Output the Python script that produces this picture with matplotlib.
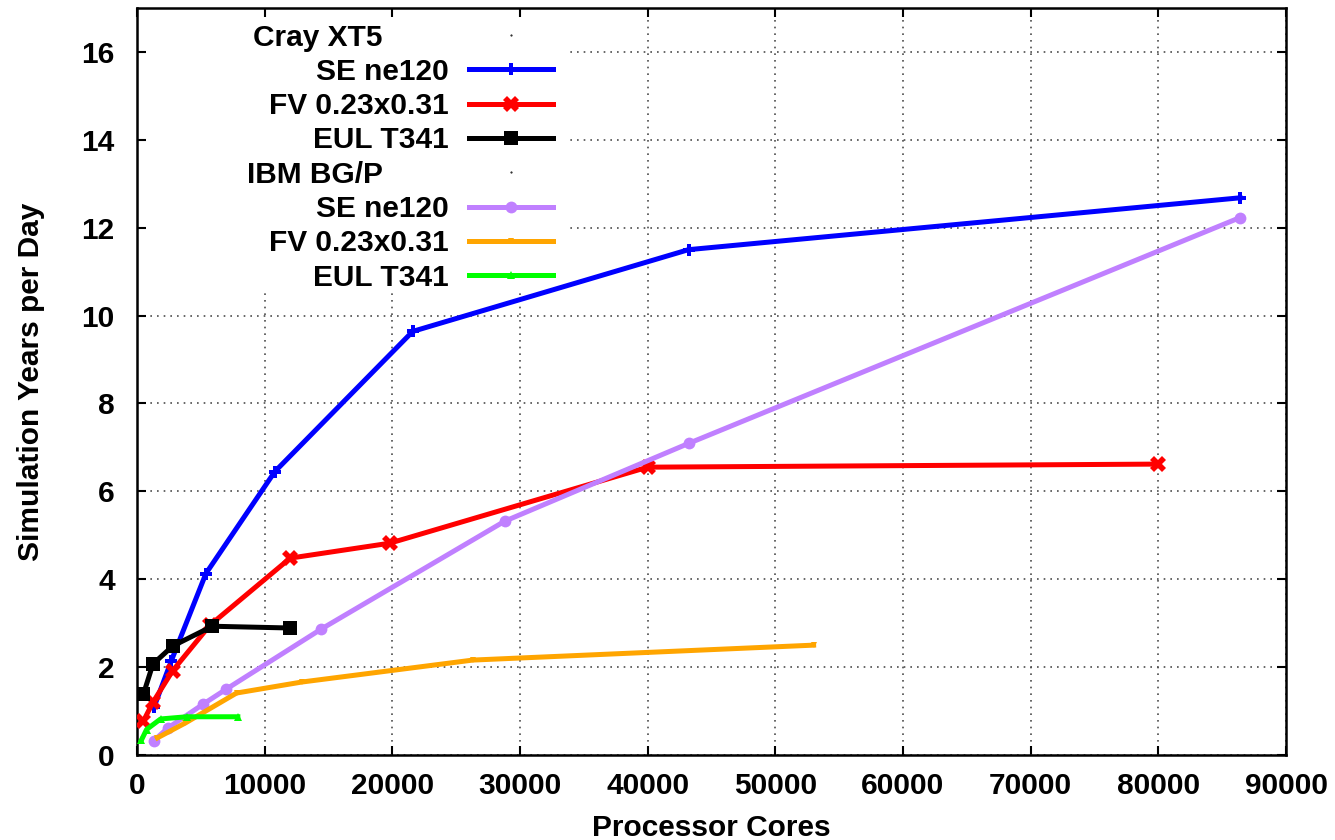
## Throughput of CAM dynamical cores on Cray XT5 and IBM BG/P

import matplotlib as mpl
mpl.use('Agg')
import matplotlib.pyplot as plt
from matplotlib.lines import Line2D
from matplotlib.patches import Rectangle

# Cray XT5
cray_se_cores = [1350, 2700, 5400, 10800, 21600, 43200, 86400]
cray_se_sypd = [1.1, 2.15, 4.13, 6.45, 9.64, 11.5, 12.68]
cray_fv_cores = [500, 1250, 2800, 5700, 12000, 19800, 40000, 80000]
cray_fv_sypd = [0.77, 1.2, 1.92, 2.95, 4.48, 4.82, 6.55, 6.62]
cray_eul_cores = [500, 1250, 2800, 5900, 12000]
cray_eul_sypd = [1.38, 2.07, 2.48, 2.93, 2.89]

# IBM BG/P
bgp_se_cores = [1300, 2400, 5200, 7000, 14400, 28800, 43200, 86400]
bgp_se_sypd = [0.32, 0.61, 1.16, 1.5, 2.86, 5.32, 7.09, 12.23]
bgp_fv_cores = [1600, 3800, 7800, 12900, 26300, 53000]
bgp_fv_sypd = [0.39, 0.73, 1.41, 1.66, 2.16, 2.5]
bgp_eul_cores = [350, 750, 1850, 3900, 7900]
bgp_eul_sypd = [0.34, 0.58, 0.82, 0.87, 0.87]

labels = ['SE ne120', 'FV 0.23x0.31', 'EUL T341']
headers = ['Cray XT5', 'IBM BG/P']
xticks = [0, 10000, 20000, 30000, 40000, 50000, 60000, 70000, 80000, 90000]
yticks = [0, 2, 4, 6, 8, 10, 12, 14, 16]

plt.rcParams['font.family'] = ['Liberation Sans', 'DejaVu Sans']
plt.rcParams['font.weight'] = 'bold'
plt.rcParams['axes.labelweight'] = 'bold'
plt.rcParams['font.size'] = 21.5

def main():
    fig = plt.figure(figsize=(13.35, 8.4), dpi=100)
    ax = fig.add_axes([0.1026, 0.1012, 0.8607, 0.8893])

    lw = 3.6
    series = [
        (cray_se_cores, cray_se_sypd, '#0000ff', 'P', 9),
        (cray_fv_cores, cray_fv_sypd, '#ff0000', 'X', 11),
        (cray_eul_cores, cray_eul_sypd, '#000000', 's', 9.5),
        (bgp_se_cores, bgp_se_sypd, '#c080ff', 'o', 8.5),
        (bgp_fv_cores, bgp_fv_sypd, '#ffa500', 'v', 5),
        (bgp_eul_cores, bgp_eul_sypd, '#00ff00', '^', 6),
    ]
    lines = []
    for x, y, c, m, ms in series:
        l, = ax.plot(x, y, color=c, lw=lw, marker=m, markersize=ms,
                     markeredgewidth=0, zorder=3)
        lines.append(l)

    ax.set_xlim(0, 90000)
    ax.set_ylim(0, 17)
    ax.set_xticks(xticks)
    ax.set_yticks(yticks)
    ax.set_axisbelow(True)
    ax.grid(True, color='0.3', linestyle=(0, (1, 3)), linewidth=1.2)
    ax.tick_params(direction='in', length=6.5, width=1.5, top=True, right=True)
    ax.tick_params(axis='x', pad=12)
    ax.tick_params(axis='y', pad=16)
    for s in ax.spines.values():
        s.set_linewidth(1.8)

    ax.set_xlabel('Processor Cores', labelpad=10)
    ax.set_ylabel('Simulation Years per Day', labelpad=26)

    # blank the grid behind the key
    ax.add_patch(Rectangle((0.0087, 0.618), 0.368, 0.37, transform=ax.transAxes,
                           facecolor='white', edgecolor='none', zorder=1))

    dot = lambda: Line2D([], [], linestyle='none', marker='.', markersize=1, color='k')
    handles = [dot()] + lines[:3] + [dot()] + lines[3:]
    pad = '\u00a0' * 8
    names = [headers[0] + pad] + labels + [headers[1] + pad] + labels
    leg = ax.legend(handles, names, loc='upper right', bbox_to_anchor=(0.362, 0.979),
                    frameon=False, markerfirst=False, handlelength=2.8,
                    handletextpad=0.7, labelspacing=0.21, borderpad=0,
                    borderaxespad=0)
    leg.set_zorder(4)

    plt.savefig('out.png')

if __name__ == "__main__":
    main()
